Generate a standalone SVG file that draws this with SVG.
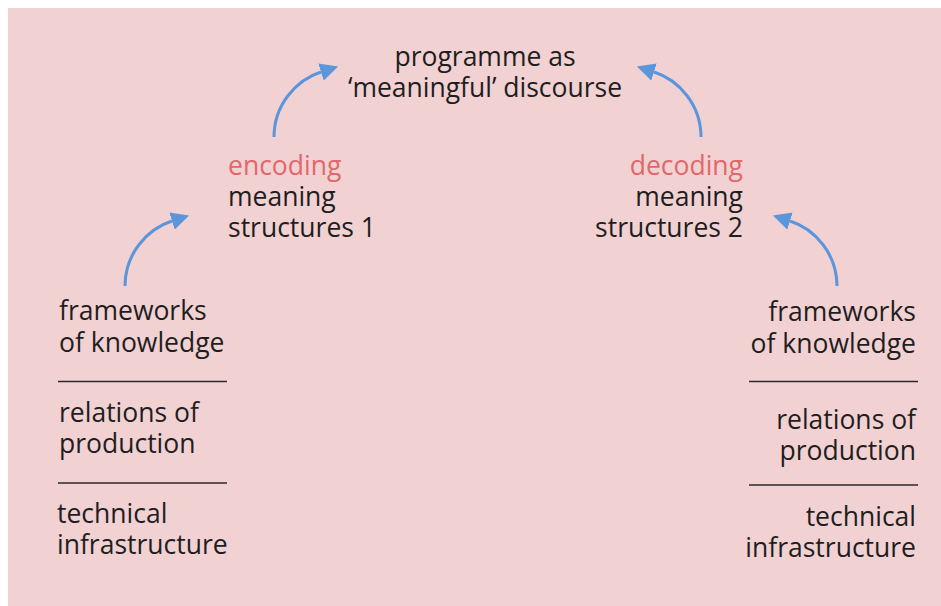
<svg xmlns="http://www.w3.org/2000/svg" width="941" height="606" viewBox="0 0 941 606">
<style>
.t{font-family:"Open Sans","Noto Sans","Liberation Sans",sans-serif;font-size:26.5px;fill:#1e1e1e}
.r{fill:#e0686b}
.e{text-anchor:end}
.m{text-anchor:middle}
.arr{fill:none;stroke:#5b96dd;stroke-width:3;marker-end:url(#ah)}
.sep{stroke:#2a2a2a;stroke-width:1.5}
</style>
<defs>
<marker id="ah" viewBox="0 0 10 10" refX="0" refY="5" markerUnits="userSpaceOnUse" markerWidth="18" markerHeight="18" orient="auto">
<path d="M0,0 L10,5 L0,10 z" fill="#5b96dd"/>
</marker>
</defs>
<rect x="8" y="8" width="933" height="598" fill="#f2d1d3"/>
<g id="connectors">
<path class="arr" d="M274,137 C274,105 296,80 321,72"/>
<path class="arr" d="M701,137 C701,105 679,80 654,72"/>
<path class="arr" d="M125,286 C125,254 147,229 172,221"/>
<path class="arr" d="M837,286 C837,254 815,229 790,221"/>
</g>
<g id="programme">
<text class="t m"><tspan x="485" y="66">programme as</tspan><tspan x="485" y="97">‘meaningful’ discourse</tspan></text>
</g>
<g id="encoding">
<text class="t"><tspan class="r" x="228" y="175">encoding</tspan><tspan x="228" y="206">meaning</tspan><tspan x="228" y="237">structures 1</tspan></text>
</g>
<g id="decoding">
<text class="t e"><tspan class="r" x="743" y="175">decoding</tspan><tspan x="743" y="206">meaning</tspan><tspan x="743" y="237">structures 2</tspan></text>
</g>
<g id="left-stack">
<text class="t"><tspan x="59" y="320">frameworks</tspan><tspan x="59" y="352">of knowledge</tspan></text>
<line class="sep" x1="58" y1="381.5" x2="227" y2="381.5" stroke="#6e6466"/>
<text class="t"><tspan x="59" y="422">relations of</tspan><tspan x="59" y="453">production</tspan></text>
<line class="sep" x1="58" y1="483" x2="227" y2="483"/>
<text class="t"><tspan x="57" y="523">technical</tspan><tspan x="57" y="554">infrastructure</tspan></text>
</g>
<g id="right-stack">
<text class="t e"><tspan x="916" y="321">frameworks</tspan><tspan x="916" y="353">of knowledge</tspan></text>
<line class="sep" x1="749" y1="381.5" x2="918" y2="381.5"/>
<text class="t e"><tspan x="916" y="429">relations of</tspan><tspan x="916" y="460">production</tspan></text>
<line class="sep" x1="749" y1="485" x2="918" y2="485"/>
<text class="t e"><tspan x="916" y="526">technical</tspan><tspan x="916" y="557">infrastructure</tspan></text>
</g>
</svg>
